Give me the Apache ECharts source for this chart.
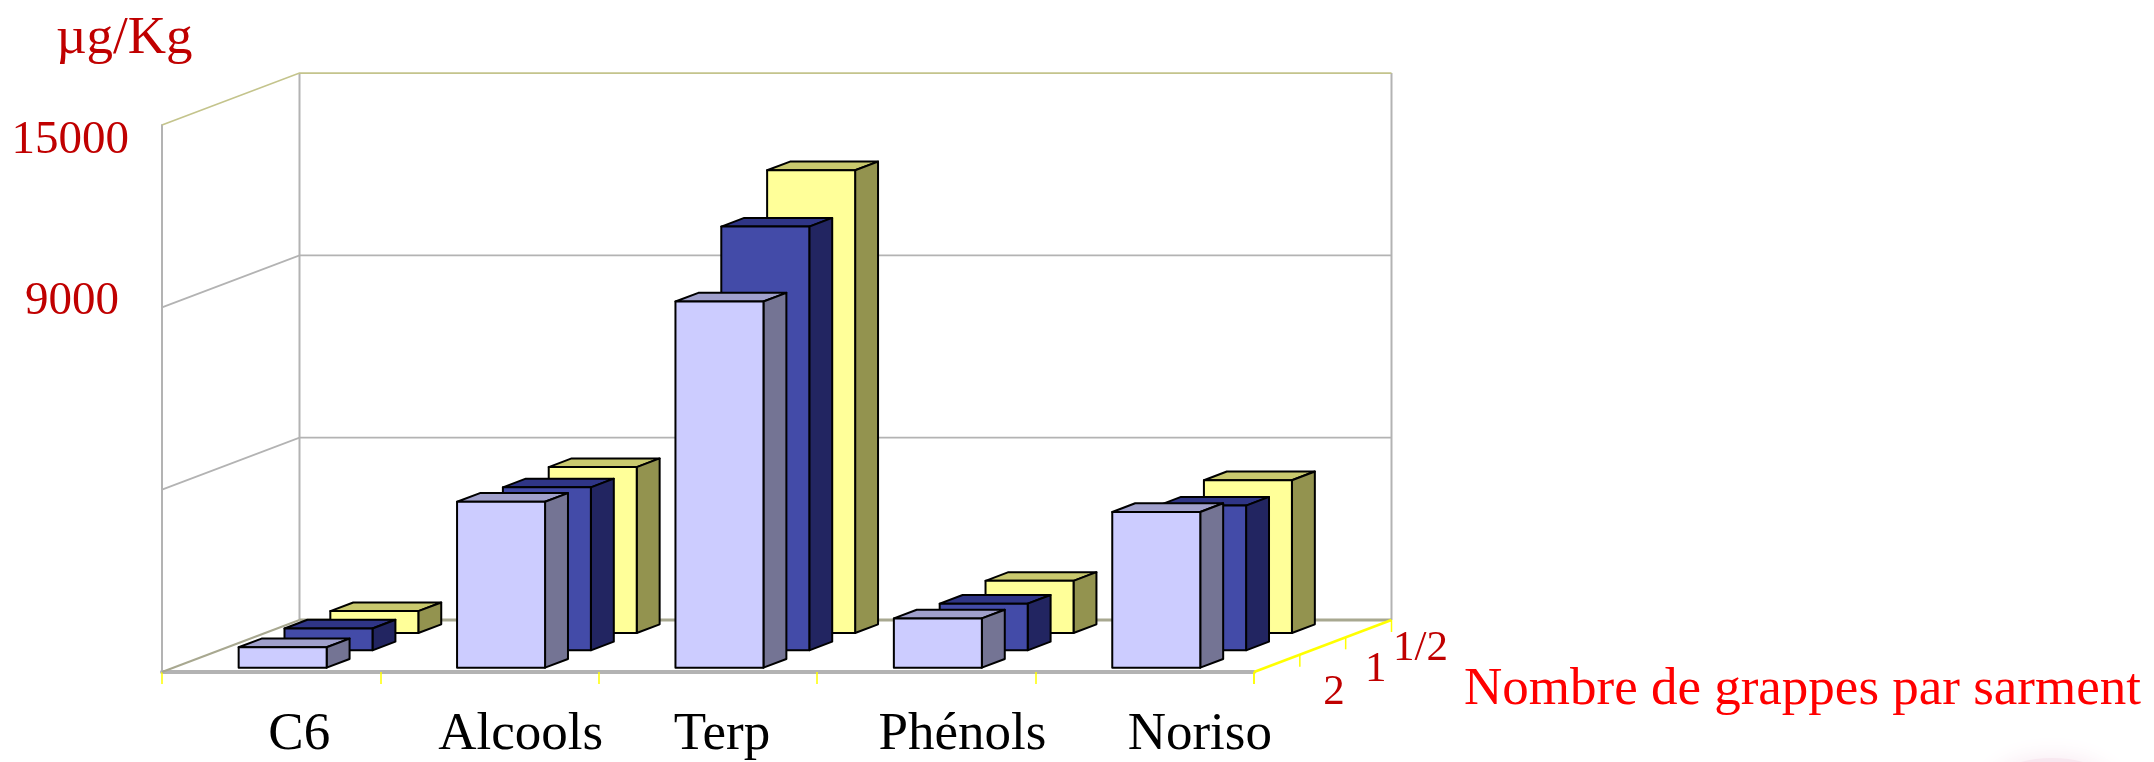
<!DOCTYPE html>
<html><head><meta charset="utf-8">
<style>html,body{margin:0;padding:0;background:#fff}#c{width:2154px;height:762px}</style>
<script src="https://cdn.jsdelivr.net/npm/echarts@6/dist/echarts.min.js"></script>
</head><body><div id="c"></div>
<script>
const categories = ['C6','Alcools','Terp','Phénols','Noriso'];
const depthLabels = ['2','1','1/2'];
const values2 = [560, 4550, 10040, 1350, 4270];
const values1 = [600, 4470, 11620, 1280, 3970];
const valuesHalf = [600, 4550, 12690, 1430, 4190];
const yTicks = [0, 5000, 10000, 15000];
const yTickLabels = {10000:'9000', 15000:'15000'};

const FONT = '"Liberation Serif","Times New Roman",serif';
const DEPTH = [137.5, -52];
const ROWS = 3;
const BAR_SHARE = 88/218.4;
const catShift = [28, 31, 14, 36, 55];
const DARK = '#c00000';

function bar(row, colors){
  return function(params, api){
    const i = api.value(0);
    const base = api.coord([i, 0]);
    const top = api.coord([i, api.value(1)]);
    const band = api.size([1,0])[0];
    const w = band*BAR_SHARE;
    const sx = DEPTH[0]/ROWS, sy = DEPTH[1]/ROWS;
    const x0 = base[0]-w/2+(row+0.25)*sx;
    const dy0 = (row+0.25)*sy;
    const yb = base[1]+dy0, yt = top[1]+dy0;
    const dx = sx/2, dy = sy/2;
    const st = c => ({fill:c, stroke:'#000', lineWidth:2, lineJoin:'round'});
    return {type:'group', children:[
      {type:'polygon', shape:{points:[[x0,yt],[x0+dx,yt+dy],[x0+w+dx,yt+dy],[x0+w,yt]]}, style:st(colors[2])},
      {type:'polygon', shape:{points:[[x0+w,yb],[x0+w+dx,yb+dy],[x0+w+dx,yt+dy],[x0+w,yt]]}, style:st(colors[1])},
      {type:'rect', shape:{x:x0,y:yt,width:w,height:yb-yt}, style:st(colors[0])}
    ]};
  };
}
function rowSeries(name,row,vals,colors){
  return {name, type:'custom', coordinateSystem:'cartesian2d', silent:true, z:ROWS-row+2,
    encode:{x:0,y:1}, data:vals.map((v,i)=>[i,v]), renderItem:bar(row,colors)};
}
function line(pts,color,width){
  return {type:'polyline', shape:{points:pts}, style:{fill:null, stroke:color, lineWidth:width}};
}
function frame(params, api){
  const v = api.value(0);
  const ch = [];
  const l = api.coord([0,v]);
  const band = api.size([1,0])[0];
  const x0 = l[0]-band/2, x1 = x0+band*categories.length, y = l[1];
  const bx = x0+DEPTH[0], by = y+DEPTH[1], rx = x1+DEPTH[0];
  const isTop = v===yTicks[yTicks.length-1], isZero = v===0;
  if(isZero){
    const t = api.coord([0,yTicks[yTicks.length-1]])[1];
    ch.push(line([[bx,by],[bx,t+DEPTH[1]]],'#b3b3b3',2));
    ch.push(line([[rx,by],[rx,t+DEPTH[1]]],'#b3b3b3',2));
    ch.push(line([[x0,y],[bx,by]],'#a8a890',2));
    ch.push(line([[bx,by],[rx,by]],'#a8a890',3));
    ch.push(line([[x1,y],[rx,by]],'#ffff00',2.5));
    for(let r=0;r<=ROWS;r++){
      const px=x1+DEPTH[0]*r/ROWS, py=y+DEPTH[1]*r/ROWS;
      ch.push(line([[px,py],[px,py+12]],'#ffff00',1.5));
    }
    const offs=[[57,29],[53,24],[52,20]];
    depthLabels.forEach((t,r)=>{
      ch.push({type:'text', style:{text:t, x:x1+DEPTH[0]*(r+0.5)/ROWS+offs[r][0], y:y+DEPTH[1]*(r+0.5)/ROWS+offs[r][1],
        fill:DARK, font:'43px '+FONT, textAlign:'center', textVerticalAlign:'middle'}});
    });
  } else {
    ch.push(line([[x0,y],[bx,by],[rx,by]], isTop?'#c4c48c':'#b3b3b3', 1.75));
  }
  return {type:'group', children:ch};
}
const catRich = {};
categories.forEach((c,i)=>{catRich['c'+i]={fontSize:53, fontFamily:FONT, color:'#000', padding:[0,0,0,catShift[i]*2]};});

const chart = echarts.init(document.getElementById('c'), null, {renderer:'canvas'});
chart.setOption({
  animation:false,
  backgroundColor:'#fff',
  grid:{left:162,right:900,top:125,bottom:89},
  xAxis:{type:'category',data:categories,
    axisLine:{lineStyle:{color:'#b3b3b3',width:4}},
    axisTick:{show:true,alignWithLabel:false,length:12,lineStyle:{color:'#ffff00',width:1.5}},
    axisLabel:{margin:37,interval:0,formatter:(v,i)=>`{c${i}|${v}}`,rich:catRich}},
  yAxis:{type:'value',min:0,max:15000,interval:5000,splitLine:{show:false},
    axisLine:{show:true,lineStyle:{color:'#b3b3b3',width:2}},axisTick:{show:false},
    axisLabel:{margin:33,formatter:v=>{const t=yTickLabels[v];return t?`{k${v}|${t}}`:'';},
      rich:{k15000:{fontSize:47,fontFamily:FONT,color:DARK,padding:[32,0,0,0]},k10000:{fontSize:47,fontFamily:FONT,color:DARK,padding:[0,10,12,0]}}}},
  graphic:[
    {type:'ellipse',shape:{cx:2052,cy:788,rx:62,ry:30},style:{fill:'#f8e8f0',shadowColor:'#f8e8f0',shadowBlur:24},silent:true},
    {type:'text',left:56,top:13,style:{text:'µg/Kg',font:'53px '+FONT,fill:DARK}},
    {type:'text',left:1464,top:664,style:{text:'Nombre de grappes par sarment',font:'53px '+FONT,fill:'#ff0000'}}
  ],
  series:[
    {name:'frame',type:'custom',coordinateSystem:'cartesian2d',silent:true,z:1,encode:{y:0},
      data:yTicks.map(v=>[v]),renderItem:frame},
    rowSeries('1/2',2,valuesHalf,['#ffff99','#93934f','#c9c96e']),
    rowSeries('1',1,values1,['#434ba8','#222561','#2f3586']),
    rowSeries('2',0,values2,['#ccccff','#747494','#a0a0cc'])
  ]
});
</script></body></html>
